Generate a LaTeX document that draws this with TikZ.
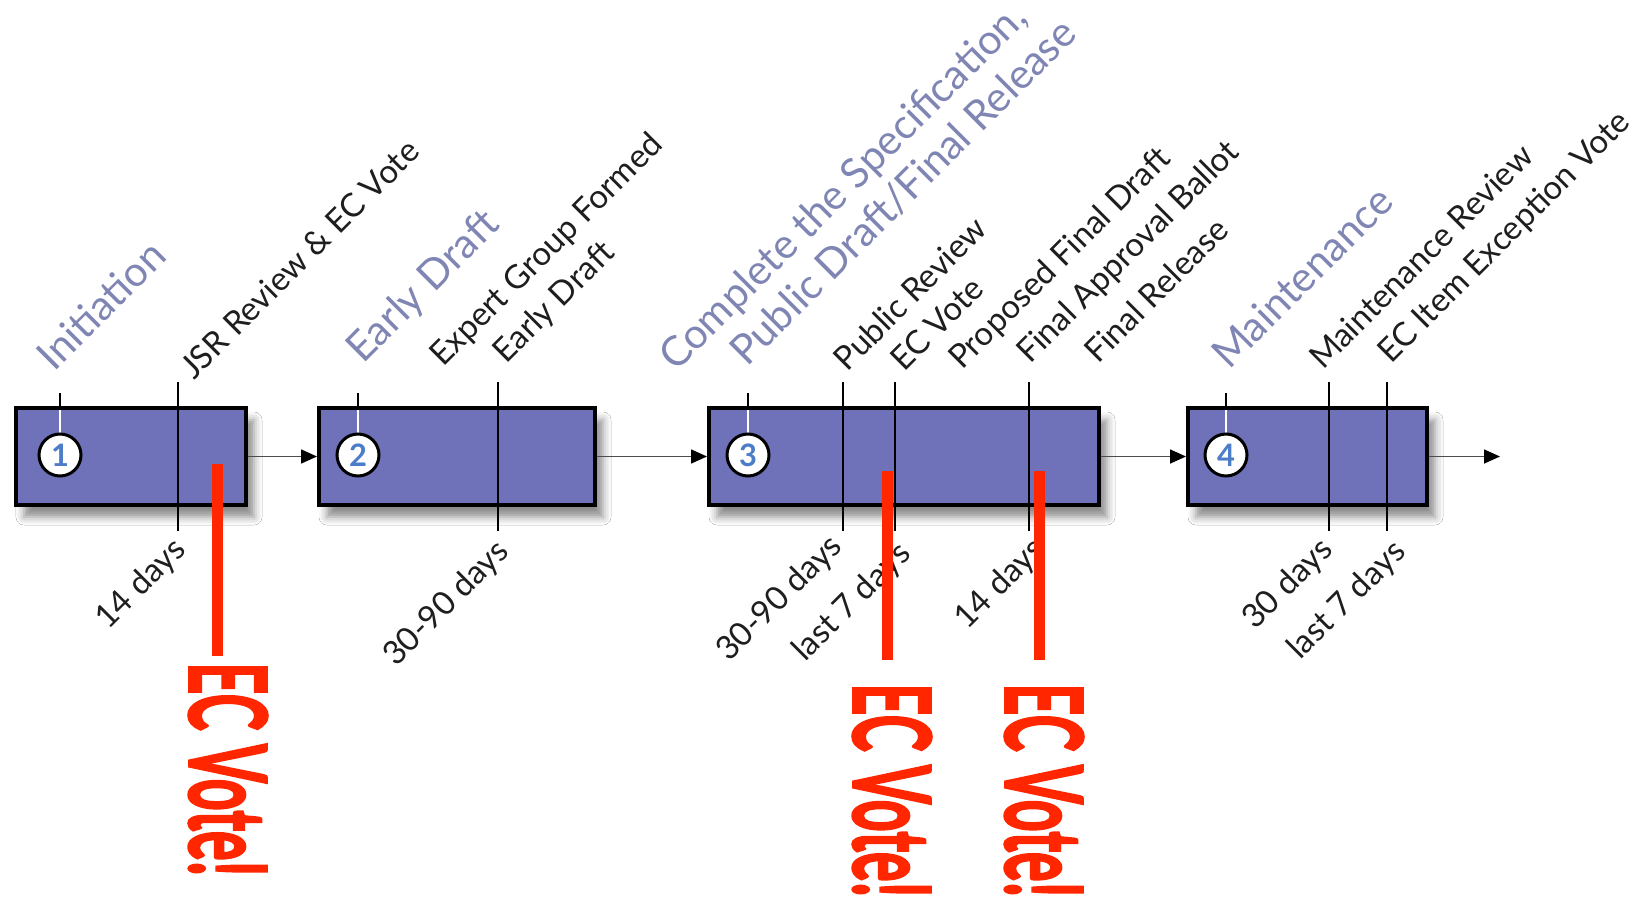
\documentclass[tikz,border=0pt]{standalone}
\usepackage{fontspec}
\setmainfont{Lato}
\newfontfamily\votefont{Lato Bold}[FakeBold=2.5]
\usetikzlibrary{arrows.meta,shadows.blur}
\definecolor{boxfill}{RGB}{111,114,185}
\definecolor{phase}{RGB}{128,134,180}
\definecolor{numblue}{RGB}{75,125,200}
\definecolor{votered}{RGB}{255,38,0}
\definecolor{labelgray}{RGB}{30,30,30}
\tikzset{
  box/.style={draw=black, line width=4bp, fill=boxfill, inner sep=0pt,
    minimum height=97bp,
    blur shadow={shadow xshift=8bp, shadow yshift=-12bp, shadow blur radius=8bp, shadow opacity=45}},
  num/.style={circle, draw=black, line width=3bp, fill=white, minimum size=42bp,
    inner sep=0pt, text=numblue, font=\fontsize{31}{31}\selectfont\bfseries},
  lbl/.style={rotate=45, anchor=base west, inner sep=0pt, text=labelgray,
    font=\fontsize{33}{40}\selectfont},
  phaselbl/.style={lbl, text=phase, font=\fontsize{41.5}{48}\selectfont},
  tickline/.style={line width=1.6bp, black},
  flow/.style={line width=1.6bp, draw=black!70,
    -{Triangle[length=16bp,width=14bp,color=black,fill=black]}},
  redline/.style={votered, line width=11bp},
  vote/.style={rotate=-90, anchor=west, inner sep=0pt, text=votered}
}
\begin{document}
\begin{tikzpicture}[x=1bp,y=-1bp]
\useasboundingbox[fill=white] (0,0) rectangle (1642,896);

% boxes
\node[box, minimum width=230bp] (b1) at (131,456.5) {};
\node[box, minimum width=276bp] (b2) at (457,456.5) {};
\node[box, minimum width=390bp] (b3) at (904,456.5) {};
\node[box, minimum width=239bp] (b4) at (1307.5,456.5) {};
\coordinate (end) at (1500,456.5);

% flow arrows
\draw[flow] (b1.east) -- (b2.west);
\draw[flow] (b2.east) -- (b3.west);
\draw[flow] (b3.east) -- (b4.west);
\draw[flow] (b4.east) -- (end);

% milestone ticks
\foreach \x in {178,498,843,895,1029,1329,1387}
  \draw[tickline] (\x,382) -- (\x,531);

% phase start ticks and numbered circles
\foreach \x in {60,358,748,1226}{
  \draw[tickline] (\x,393) -- (\x,406);
  \draw[white, line width=1.6bp] (\x,410) -- (\x,440);
}
\node[num] (c1) at (60,455) {1};
\node[num] (c2) at (358,455) {2};
\node[num] (c3) at (748,455) {3};
\node[num] (c4) at (1226,455) {4};

% phase labels
\node[phaselbl] (p1) at (54,373) {Initiation};
\node[phaselbl] (p2) at (363,365) {Early Draft};
\node[phaselbl] (p3a) at (676,373) {Complete the Specification,};
\node[phaselbl] (p3b) at (747,368) {Public Draft/Final Release};
\node[phaselbl] (p4) at (1229,371) {Maintenance};

% milestone labels
\node[lbl] (m1) at (194,381) {JSR Review \& EC Vote};
\node[lbl] (m2) at (443,368) {Expert Group Formed};
\node[lbl] (m3) at (506,365) {Early Draft};
\node[lbl] (m4) at (847,373) {Public Review};
\node[lbl] (m5) at (904,373) {EC Vote};
\node[lbl] (m6) at (962,371) {Proposed Final Draft};
\node[lbl] (m7) at (1030,365) {Final Approval Ballot};
\node[lbl] (m8) at (1098,365) {Final Release};
\node[lbl] (m9) at (1323,371) {Maintenance Review};
\node[lbl] (m10) at (1391,365) {EC Item Exception Vote};

% duration labels
\node[lbl] (d1) at (108,631) {14 days};
\node[lbl] (d2) at (396,668) {30-90 days};
\node[lbl] (d3) at (729,663) {30-90 days};
\node[lbl] (d4) at (805,663) {last 7 days};
\node[lbl] (d5) at (967,631) {14 days};
\node[lbl] (d6) at (1255,631) {30 days};
\node[lbl] (d7) at (1300,661) {last 7 days};

% red EC vote markers
\draw[redline] (217,464) -- (217,656);
\draw[redline] (887,471) -- (887,660);
\draw[redline] (1039,471) -- (1039,660);
\node[vote] (v1) at (228,662) {\resizebox{214bp}{78bp}{\votefont EC Vote!}};
\node[vote] (v2) at (892,683) {\resizebox{214bp}{78bp}{\votefont EC Vote!}};
\node[vote] (v3) at (1044,683) {\resizebox{214bp}{78bp}{\votefont EC Vote!}};
\end{tikzpicture}
\end{document}
